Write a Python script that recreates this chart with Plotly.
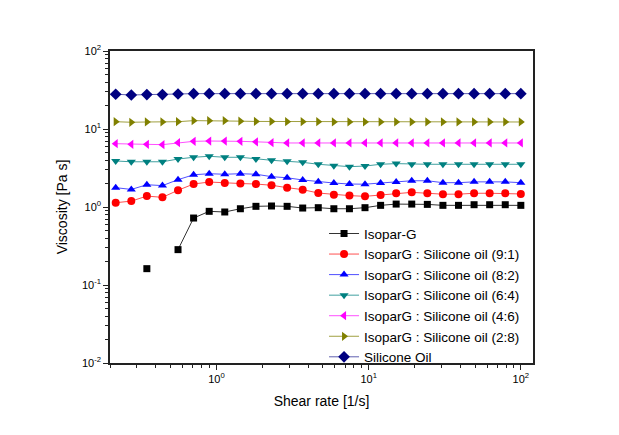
import plotly.graph_objects as go

shear_rate = [0.2175, 0.2754, 0.3485, 0.4412, 0.5585, 0.7070, 0.8952, 1.133, 1.435,
              1.816, 2.299, 2.911, 3.685, 4.665, 5.905, 7.475, 9.46, 11.98, 15.16,
              19.19, 24.30, 30.76, 38.94, 49.29, 62.4, 79.0, 100.0]

isopar_g = [None, None, 0.162, None, 0.284, 0.722, 0.88, 0.863, 0.95, 1.02, 1.03, 1.02,
            0.97, 0.98, 0.95, 0.95, 0.98, 1.05, 1.09, 1.09, 1.08, 1.05, 1.05, 1.07,
            1.07, 1.07, 1.05]
mix_9_1 = [1.135, 1.19, 1.38, 1.33, 1.64, 1.97, 2.09, 2.03, 2.0, 1.97, 1.90, 1.77, 1.67,
           1.51, 1.44, 1.40, 1.37, 1.43, 1.50, 1.54, 1.50, 1.46, 1.46, 1.50, 1.50, 1.50, 1.47]
mix_8_2 = [1.77, 1.68, 1.93, 1.88, 2.24, 2.59, 2.67, 2.63, 2.67, 2.63, 2.45, 2.37, 2.22,
           2.11, 2.03, 1.97, 1.96, 2.03, 2.09, 2.17, 2.17, 2.05, 2.05, 2.10, 2.10, 2.10, 2.05]
mix_6_4 = [3.89, 3.80, 3.80, 3.80, 4.12, 4.34, 4.47, 4.34, 4.34, 4.12, 3.97, 3.85, 3.74,
           3.53, 3.39, 3.29, 3.35, 3.53, 3.60, 3.53, 3.53, 3.53, 3.53, 3.53, 3.53, 3.53, 3.53]
mix_4_6 = [6.48, 6.36, 6.36, 6.30, 6.68, 6.95, 7.01, 7.01, 6.95, 6.85, 6.68, 6.62, 6.62,
           6.62, 6.62, 6.62, 6.62, 6.62, 6.62, 6.62, 6.62, 6.62, 6.62, 6.62, 6.62, 6.62, 6.62]
mix_2_8 = [12.4, 12.2, 12.3, 12.3, 12.4, 12.8, 12.8, 12.8, 12.6, 12.5, 12.5, 12.4, 12.4,
           12.4, 12.3, 12.3, 12.3, 12.3, 12.3, 12.3, 12.3, 12.3, 12.3, 12.3, 12.3, 12.3, 12.3]
silicone_oil = [27.9, 27.3, 27.6, 27.6, 28.1, 28.4, 28.4, 28.4, 28.4, 28.4, 28.4, 28.4, 28.4,
                28.4, 28.4, 28.4, 28.4, 28.4, 28.4, 28.4, 28.4, 28.4, 28.4, 28.4, 28.4, 28.4, 28.4]

series_names = ["Isopar-G", "IsoparG : Silicone oil (9:1)", "IsoparG : Silicone oil (8:2)",
                "IsoparG : Silicone oil (6:4)", "IsoparG : Silicone oil (4:6)",
                "IsoparG : Silicone oil (2:8)", "Silicone Oil"]
series_values = [isopar_g, mix_9_1, mix_8_2, mix_6_4, mix_4_6, mix_2_8, silicone_oil]

x_tick_vals = [1, 10, 100]
x_tick_text = ["10<sup>0</sup>", "10<sup>1</sup>", "10<sup>2</sup>"]
y_tick_vals = [0.01, 0.1, 1, 10, 100]
y_tick_text = ["10<sup>-2</sup>", "10<sup>-1</sup>", "10<sup>0</sup>", "10<sup>1</sup>", "10<sup>2</sup>"]

colors = ["#000000", "#ff0000", "#0000ff", "#008080", "#ff00ff", "#808000", "#000080"]
line_colors = ["#333333", "#ff5050", "#5050ff", "#40a0a0", "#ff50ff", "#a0a040", "#6060b0"]
symbols = ["square", "circle", "triangle-up", "triangle-down", "triangle-left",
           "triangle-right", "diamond"]
sizes = [7, 8, 8, 8, 8, 8, 9]

minor_x = [m * 10 ** e for e in (-1, 0, 1) for m in range(2, 10)]
minor_y = [m * 10 ** e for e in (-2, -1, 0, 1) for m in range(2, 10)]

fig = go.Figure()
for name, vals, c, lc, s, sz in zip(series_names, series_values, colors, line_colors, symbols, sizes):
    fig.add_trace(go.Scatter(
        x=shear_rate, y=vals, name=name, mode="lines+markers",
        connectgaps=False,
        line=dict(color=lc, width=1),
        marker=dict(symbol=s, size=sz, color=c, line=dict(width=0)),
    ))

font = "Arial, Liberation Sans, sans-serif"
axis_common = dict(
    type="log", showline=True, linecolor="#222", linewidth=1.5, mirror=True,
    ticks="outside", ticklen=5, tickwidth=1, tickcolor="#222",
    showgrid=False, zeroline=False, tickfont=dict(size=11), tickmode="array",
)
fig.update_layout(
    width=611, height=427,
    margin=dict(l=102, r=86, t=43, b=72),
    paper_bgcolor="white", plot_bgcolor="white",
    font=dict(family=font, color="black", size=11),
    showlegend=True,
    legend=dict(x=0.506, y=0.464, xanchor="left", yanchor="top",
                bgcolor="rgba(0,0,0,0)", borderwidth=0,
                font=dict(size=13.5, family=font), tracegroupgap=0, itemwidth=30),
    xaxis=dict(axis_common, range=[-0.7, 2.08], tickvals=x_tick_vals, ticktext=x_tick_text,
               minor=dict(ticks="outside", ticklen=3, tickcolor="#222", showgrid=False,
                          tickmode="array", tickvals=minor_x),
               title=dict(text="Shear rate [1/s]", font=dict(size=14), standoff=12)),
    yaxis=dict(axis_common, range=[-2, 2], tickvals=y_tick_vals, ticktext=y_tick_text,
               minor=dict(ticks="outside", ticklen=3, tickcolor="#222", showgrid=False,
                          tickmode="array", tickvals=minor_y),
               title=dict(text="Viscosity [Pa s]", font=dict(size=14), standoff=11)),
)

fig.write_html("out.html")
